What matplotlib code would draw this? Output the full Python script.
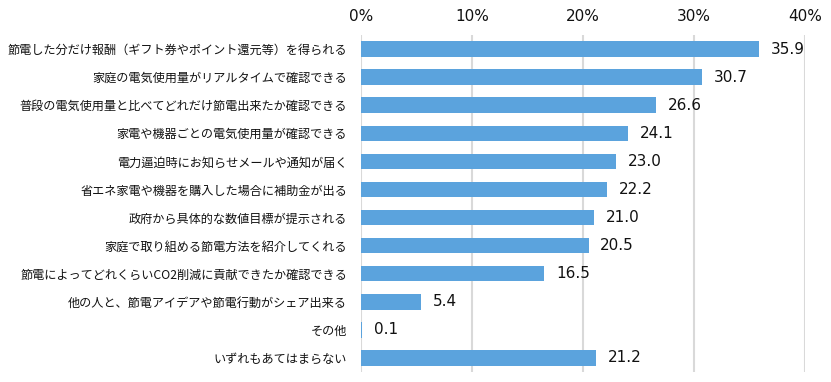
import matplotlib
matplotlib.use("Agg")
import matplotlib.pyplot as plt
from matplotlib.ticker import FuncFormatter

plt.rcParams['font.family'] = ['Noto Sans CJK JP', 'DejaVu Sans']

# Data
labels = [
    "節電した分だけ報酬（ギフト券やポイント還元等）を得られる",
    "家庭の電気使用量がリアルタイムで確認できる",
    "普段の電気使用量と比べてどれだけ節電出来たか確認できる",
    "家電や機器ごとの電気使用量が確認できる",
    "電力逼迫時にお知らせメールや通知が届く",
    "省エネ家電や機器を購入した場合に補助金が出る",
    "政府から具体的な数値目標が提示される",
    "家庭で取り組める節電方法を紹介してくれる",
    "節電によってどれくらいCO2削減に貢献できたか確認できる",
    "他の人と、節電アイデアや節電行動がシェア出来る",
    "その他",
    "いずれもあてはまらない",
]
values = [35.9, 30.7, 26.6, 24.1, 23.0, 22.2, 21.0, 20.5, 16.5, 5.4, 0.1, 21.2]
xticks = [0, 10, 20, 30, 40]

bar_color = "#5ba3dd"
grid_color = "#d9d9d9"

fig = plt.figure(figsize=(8.31, 3.82), dpi=100)
ax = fig.add_axes([0.4344, 0.0262, 0.5343, 0.8822])

ypos = list(range(len(values)))
ax.barh(ypos, values, height=0.55, color=bar_color, zorder=3)

# value labels at bar ends
for y, v in zip(ypos, values):
    ax.annotate(f"{v:.1f}", xy=(v, y), xytext=(8.5, 0), textcoords="offset points",
                va="center", ha="left", fontsize=11, color="#111111",
                family="DejaVu Sans")

ax.set_xlim(0, 40)
ax.set_ylim(len(values) - 0.5, -0.5)
ax.set_xticks(xticks)
ax.xaxis.set_major_formatter(FuncFormatter(lambda x, p: f"{x:.0f}%"))
ax.xaxis.tick_top()
ax.tick_params(axis="x", length=0, labelsize=11, pad=8, colors="#111111")
for t in ax.get_xticklabels():
    t.set_family("DejaVu Sans")
ax.tick_params(axis="y", length=0, labelsize=8.75, pad=10, colors="#111111")
ax.set_yticks(ypos)
ax.set_yticklabels(labels)

ax.grid(axis="x", color=grid_color, linewidth=1.5, zorder=0)
for s in ax.spines.values():
    s.set_visible(False)

fig.savefig("out.png", dpi=100)
